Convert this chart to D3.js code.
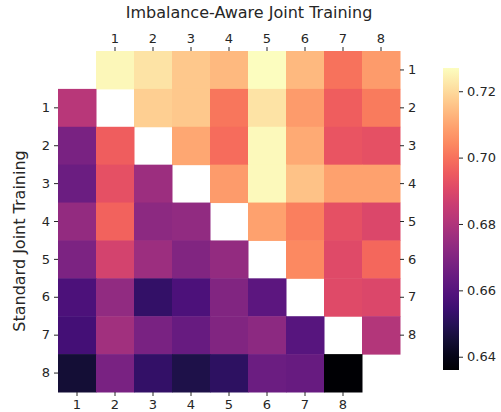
<!DOCTYPE html>
<html>
<head>
<meta charset="utf-8">
<script src="https://cdn.jsdelivr.net/npm/d3@7"></script>
<style>
  body { margin: 0; background: #fff; }
  text { font-family: "DejaVu Sans", sans-serif; fill: #262626; }
</style>
</head>
<body>
<div id="chart"></div>
<script>
// upper triangle = Imbalance-Aware, lower triangle = Standard, null = blank
var rowIds = [0, 1, 2, 3, 4, 5, 6, 7, 8]
var topLabels = ["1", "2", "3", "4", "5", "6", "7", "8"]
var bottomLabels = ["1", "2", "3", "4", "5", "6", "7", "8"]
var leftLabels = ["1", "2", "3", "4", "5", "6", "7", "8"]
var rightLabels = ["1", "2", "3", "4", "5", "6", "7", "8"]
var cbTicks = [0.64, 0.66, 0.68, 0.70, 0.72]

var row0 = [null, 0.7257, 0.722, 0.7165, 0.7138, 0.7270, 0.7138, 0.700, 0.708]
var row1 = [0.682, null, 0.718, 0.7165, 0.701, 0.722, 0.708, 0.696, 0.702]
var row2 = [0.668, 0.696, null, 0.710, 0.699, 0.7262, 0.711, 0.6937, 0.6927]
var row3 = [0.665, 0.6927, 0.676, null, 0.708, 0.7262, 0.7156, 0.709, 0.709]
var row4 = [0.674, 0.697, 0.6726, 0.6735, null, 0.709, 0.7028, 0.6927, 0.690]
var row5 = [0.669, 0.688, 0.676, 0.6699, 0.674, null, 0.7046, 0.691, 0.698]
var row6 = [0.658, 0.6735, 0.6525, 0.658, 0.6699, 0.6615, null, 0.691, 0.690]
var row7 = [0.656, 0.677, 0.668, 0.6640, 0.6699, 0.6726, 0.6605, null, 0.6808]
var row8 = [0.645, 0.668, 0.6525, 0.648, 0.6515, 0.665, 0.6640, 0.636, null]
var rows = [row0, row1, row2, row3, row4, row5, row6, row7, row8]

var W = 501, H = 412
var gx0 = 58, gy0 = 51, gx1 = 400, gy1 = 392

var svg = d3.select("#chart").append("svg")
  .attr("width", W).attr("height", H)

var x = d3.scaleBand().domain(rowIds).range([gx0, gx1])
var y = d3.scaleBand().domain(rowIds).range([gy0, gy1])

var cells = []
rows.forEach(function(r, i) {
  r.forEach(function(v, j) { if (v !== null) cells.push({ r: i, c: j, v: v }) })
})
var vmin = d3.min(cells, function(d) { return d.v })
var vmax = d3.max(cells, function(d) { return d.v })
var color = d3.scaleSequential(d3.interpolateMagma).domain([vmin, vmax])

svg.append("g").selectAll("rect")
  .data(cells)
  .enter().append("rect")
    .attr("x", function(d) { return x(d.c) })
    .attr("y", function(d) { return y(d.r) })
    .attr("width", x.bandwidth() + 0.5)
    .attr("height", y.bandwidth() + 0.5)
    .attr("fill", function(d) { return color(d.v) })

function styleAxis(g) {
  g.select(".domain").remove()
  g.selectAll(".tick line").attr("stroke", "#262626").attr("stroke-width", 1)
  g.selectAll(".tick text").style("font-size", "13px")
}

svg.append("g")
  .attr("transform", "translate(0," + gy0 + ")")
  .call(d3.axisTop(x).tickValues([1, 2, 3, 4, 5, 6, 7, 8])
    .tickFormat(function(i) { return topLabels[i - 1] }).tickSize(4).tickPadding(4))
  .call(styleAxis)

svg.append("g")
  .attr("transform", "translate(0," + gy1 + ")")
  .call(d3.axisBottom(x).tickValues([0, 1, 2, 3, 4, 5, 6, 7])
    .tickFormat(function(i) { return bottomLabels[i] }).tickSize(4).tickPadding(4))
  .call(styleAxis)

svg.append("g")
  .attr("transform", "translate(" + gx0 + ",0)")
  .call(d3.axisLeft(y).tickValues([1, 2, 3, 4, 5, 6, 7, 8])
    .tickFormat(function(i) { return leftLabels[i - 1] }).tickSize(4).tickPadding(4))
  .call(styleAxis)

svg.append("g")
  .attr("transform", "translate(" + gx1 + ",0)")
  .call(d3.axisRight(y).tickValues([0, 1, 2, 3, 4, 5, 6, 7])
    .tickFormat(function(i) { return rightLabels[i] }).tickSize(4).tickPadding(4))
  .call(styleAxis)

svg.append("text")
  .attr("x", 249)
  .attr("y", 18)
  .style("text-anchor", "middle")
  .style("font-size", "16px")
  .text("Imbalance-Aware Joint Training")

svg.append("text")
  .attr("transform", "rotate(-90)")
  .attr("x", -241)
  .attr("y", 25)
  .style("text-anchor", "middle")
  .style("font-size", "16px")
  .text("Standard Joint Training")

// colorbar
var cbX = 443, cbW = 16, cbTop = 68, cbBottom = 370
var defs = svg.append("defs")
var grad = defs.append("linearGradient")
  .attr("id", "cbgrad").attr("x1", 0).attr("y1", 1).attr("x2", 0).attr("y2", 0)
d3.range(0, 1.0001, 0.05).forEach(function(t) {
  grad.append("stop").attr("offset", t).attr("stop-color", d3.interpolateMagma(t))
})
svg.append("rect")
  .attr("x", cbX).attr("y", cbTop)
  .attr("width", cbW).attr("height", cbBottom - cbTop)
  .attr("fill", "url(#cbgrad)")

var cbScale = d3.scaleLinear().domain([vmin, vmax]).range([cbBottom, cbTop])
svg.append("g")
  .attr("transform", "translate(" + (cbX + cbW) + ",0)")
  .call(d3.axisRight(cbScale).tickValues(cbTicks).tickFormat(d3.format(".2f"))
    .tickSize(4).tickPadding(4))
  .call(styleAxis)
</script>
</body>
</html>
